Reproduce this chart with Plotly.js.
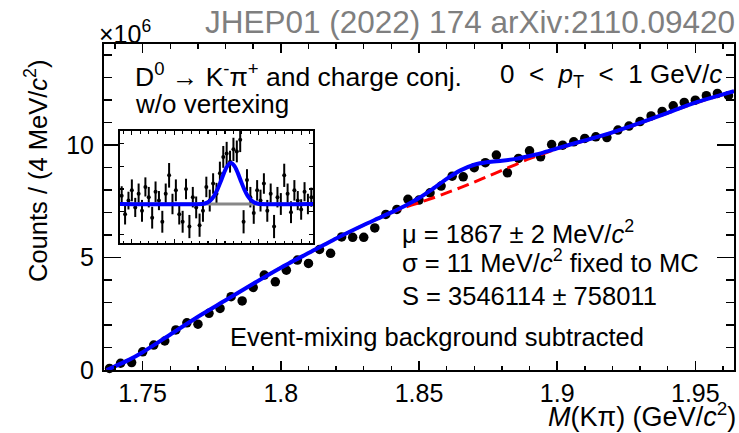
<!DOCTYPE html>
<html>
<head>
<meta charset="utf-8">
<script src="https://cdn.plot.ly/plotly-3.0.1.min.js"></script>
<style>html,body{margin:0;padding:0;background:#fff;}#chart{width:739px;height:433px;}</style>
</head>
<body>
<div id="chart"></div>
<script>
// ---- data (counts in units of 10^6) ----
const mass = [1.738,1.742,1.746,1.750,1.754,1.758,1.762,1.766,1.770,1.774,1.778,1.782,1.786,1.790,1.794,1.798,1.802,1.806,1.810,1.814,1.818,1.822,1.826,1.830,1.834,1.838,1.842,1.846,1.850,1.854,1.858,1.862,1.866,1.870,1.874,1.878,1.882,1.886,1.890,1.894,1.898,1.902,1.906,1.910,1.914,1.918,1.922,1.926,1.930,1.934,1.938,1.942,1.946,1.950,1.954,1.958,1.962];
const counts = [0.07,0.30,0.33,0.81,1.11,1.29,1.78,2.10,2.04,2.52,2.74,3.26,3.07,3.67,4.22,3.92,4.44,4.89,4.74,5.36,5.19,5.92,5.90,5.90,6.32,6.92,7.14,7.59,7.56,7.88,8.18,8.62,8.59,9.00,9.22,9.56,8.77,9.41,9.75,9.48,10.03,10.00,10.15,10.30,10.37,10.34,10.67,10.85,11.05,11.30,11.50,11.75,11.90,12.00,12.20,12.30,12.20];

// fit curves
const curveMass  = [1.737,1.745,1.750,1.760,1.770,1.780,1.790,1.800,1.810,1.820,1.830,1.835,1.840,1.845,1.850,1.855,1.860,1.865,1.870,1.875,1.880,1.885,1.890,1.895,1.900,1.910,1.920,1.930,1.940,1.950,1.964];
const bkgCurve   = [0.00,0.45,0.79,1.58,2.37,3.10,3.84,4.55,5.20,5.85,6.45,6.73,7.00,7.24,7.44,7.65,7.88,8.11,8.36,8.62,8.88,9.14,9.40,9.62,9.84,10.20,10.56,10.98,11.43,11.88,12.40];
const totalCurve = [0.00,0.45,0.79,1.58,2.37,3.10,3.84,4.55,5.20,5.85,6.45,6.73,7.01,7.31,7.65,8.06,8.50,8.88,9.13,9.25,9.31,9.39,9.52,9.67,9.86,10.21,10.57,10.99,11.44,11.89,12.40];

// inset: background-subtracted residuals (units of 10^6)
const insetResid = [0.12,-0.15,0.05,0.20,-0.05,0.15,-0.10,0.25,0.10,-0.20,0.18,0.05,-0.26,0.15,0.42,0.00,0.20,-0.15,-0.26,0.22,-0.33,0.10,-0.05,-0.31,-0.10,0.25,0.05,0.30,0.15,0.45,0.69,0.74,0.62,0.80,0.77,0.94,-0.26,0.35,0.10,-0.13,0.20,0.05,0.30,-0.10,0.15,-0.33,0.10,0.00,0.42,0.15,-0.12,0.20,0.05,-0.08,0.18,0.00,0.10];
const insetErr   = [0.14,0.15,0.13,0.16,0.14,0.15,0.16,0.14,0.15,0.16,0.15,0.14,0.16,0.15,0.18,0.15,0.16,0.15,0.16,0.15,0.17,0.15,0.16,0.17,0.16,0.15,0.16,0.15,0.16,0.17,0.16,0.17,0.16,0.17,0.16,0.18,0.17,0.16,0.15,0.16,0.15,0.16,0.15,0.16,0.15,0.17,0.15,0.16,0.17,0.15,0.16,0.15,0.14,0.15,0.14,0.15,0.14];
const insetCurveMass = [1.736,1.835,1.839,1.843,1.847,1.851,1.855,1.859,1.863,1.867,1.871,1.875,1.879,1.883,1.887,1.891,1.895,1.899,1.964];
const insetCurve     = [0,0.005,0.02,0.055,0.115,0.21,0.33,0.46,0.56,0.60,0.56,0.46,0.33,0.21,0.115,0.055,0.02,0.005,0];
const insetBkgMass = [1.736,1.964];
const insetBkg     = [0,0];

// tick labels
const xTickVals = [1.75,1.8,1.85,1.9,1.95];
const xTickText = ['1.75','1.8','1.85','1.9','1.95'];
const yTickVals = [0,5,10];
const yTickText = ['0','5','10'];

const FONT = 'Liberation Sans, Arial, Helvetica, sans-serif';
const NB = '\u00A0';

const traces = [
  {x: mass, y: counts, type:'scatter', mode:'markers', xaxis:'x', yaxis:'y',
   marker:{color:'black', size:9.5}, cliponaxis:false, hoverinfo:'skip'},
  {x: curveMass, y: bkgCurve, type:'scatter', mode:'lines', xaxis:'x', yaxis:'y',
   line:{color:'#ff0000', width:3, dash:'12px,6px', shape:'spline', smoothing:0.6}},
  {x: curveMass, y: totalCurve, type:'scatter', mode:'lines', xaxis:'x', yaxis:'y',
   line:{color:'#0000ff', width:4, shape:'spline', smoothing:0.6}},
  {x: mass, y: insetResid, type:'scatter', mode:'markers', xaxis:'x2', yaxis:'y2',
   marker:{color:'black', size:4},
   error_y:{type:'data', array: insetErr, visible:true, color:'black', thickness:2, width:0}},
  {x: insetBkgMass, y: insetBkg, type:'scatter', mode:'lines', xaxis:'x2', yaxis:'y2',
   line:{color:'#888888', width:3}},
  {x: insetCurveMass, y: insetCurve, type:'scatter', mode:'lines', xaxis:'x2', yaxis:'y2',
   line:{color:'#0000ff', width:4, shape:'spline', smoothing:0.8}}
];

function ann(text, x, y, xanchor, opts){
  return Object.assign({text:text, xref:'paper', yref:'paper', x:x, y:y, xanchor:xanchor, yanchor:'middle',
    showarrow:false, font:{family:FONT, size:25.5, color:'black'}}, opts||{});
}
const px = v => (v-104)/630;
const py = v => (370-v)/326;

const layout = {
  width:739, height:433,
  margin:{l:104, r:5, t:44, b:63},
  paper_bgcolor:'white', plot_bgcolor:'white',
  showlegend:false,
  font:{family:FONT, size:25, color:'black'},
  xaxis:{domain:[0,1], anchor:'y', range:[1.736,1.964], tickmode:'array', tickvals:xTickVals, ticktext:xTickText,
    ticks:'inside', ticklen:9, tickwidth:1.5, tickcolor:'black',
    showline:true, linecolor:'black', linewidth:2, mirror:'allticks', showgrid:false, zeroline:false,
    tickfont:{family:FONT, size:25, color:'black'},
    minor:{tickmode:'linear', tick0:1.75, dtick:0.01, ticks:'inside', ticklen:4.5, tickwidth:1.5, tickcolor:'black', showgrid:false}},
  yaxis:{domain:[0,1], anchor:'x', range:[0,14.5], tickmode:'array', tickvals:yTickVals, ticktext:yTickText,
    ticks:'inside', ticklen:17, tickwidth:1.5, tickcolor:'black', ticklabelstandoff:3,
    showline:true, linecolor:'black', linewidth:2, mirror:'allticks', showgrid:false, zeroline:false,
    tickfont:{family:FONT, size:25, color:'black'},
    minor:{tickmode:'linear', tick0:0, dtick:1, ticks:'inside', ticklen:8, tickwidth:1.5, tickcolor:'black', showgrid:false}},
  xaxis2:{domain:[px(120), px(313)], anchor:'y2', range:[1.736,1.964], showticklabels:false,
    ticks:'inside', tickmode:'linear', tick0:1.75, dtick:0.05, ticklen:4, tickwidth:1.2, tickcolor:'black',
    showline:true, linecolor:'black', linewidth:2, mirror:'allticks', showgrid:false, zeroline:false,
    minor:{tickmode:'linear', tick0:1.75, dtick:0.01, ticks:'inside', ticklen:2.5, tickwidth:1.2, tickcolor:'black', showgrid:false}},
  yaxis2:{domain:[py(243), py(131)], anchor:'x2', range:[-0.571,1.069], showticklabels:false,
    ticks:'inside', tickmode:'linear', tick0:-0.113, dtick:0.333, ticklen:4, tickwidth:1.2, tickcolor:'black',
    showline:true, linecolor:'black', linewidth:2, mirror:'allticks', showgrid:false, zeroline:false},
  annotations:[
    ann('×10<sup>6</sup>', px(97), py(32), 'left', {font:{family:FONT, size:25, color:'black'}}),
    ann('JHEP01 (2022) 174 arXiv:2110.09420', px(737), py(22), 'right', {font:{family:FONT, size:31.5, color:'#7f7f7f'}}),
    ann('D<sup>0</sup> → K<sup>-</sup>π<sup>+</sup> and charge conj.', px(133), py(75), 'left', {font:{family:FONT, size:26.5, color:'black'}}),
    ann('w/o vertexing', px(133), py(104), 'left', {font:{family:FONT, size:26, color:'black'}}),
    ann('0'+NB+' &lt;'+NB+' <i>p</i><sub>T</sub>'+NB+' &lt;'+NB+' 1 GeV/<i>c</i>', px(498), py(75), 'left', {font:{family:FONT, size:26, color:'black'}}),
    ann('μ = 1867 ± 2 MeV/<i>c</i><sup>2</sup>', px(400), py(232), 'left'),
    ann('σ = 11 MeV/<i>c</i><sup>2</sup> fixed to MC', px(400), py(261), 'left'),
    ann('S = 3546114 ± 758011', px(400), py(296), 'left'),
    ann('Event-mixing background subtracted', px(228), py(337), 'left'),
    ann('<i>M</i>(Kπ) (GeV/<i>c</i><sup>2</sup>)', px(738), py(415), 'right', {font:{family:FONT, size:27, color:'black'}}),
    ann('Counts / (4 MeV/<i>c</i><sup>2</sup>)', px(36), py(171), 'center', {textangle:-90, xanchor:'center'})
  ]
};

Plotly.newPlot('chart', traces, layout, {staticPlot:true, displayModeBar:false});
</script>
</body>
</html>
